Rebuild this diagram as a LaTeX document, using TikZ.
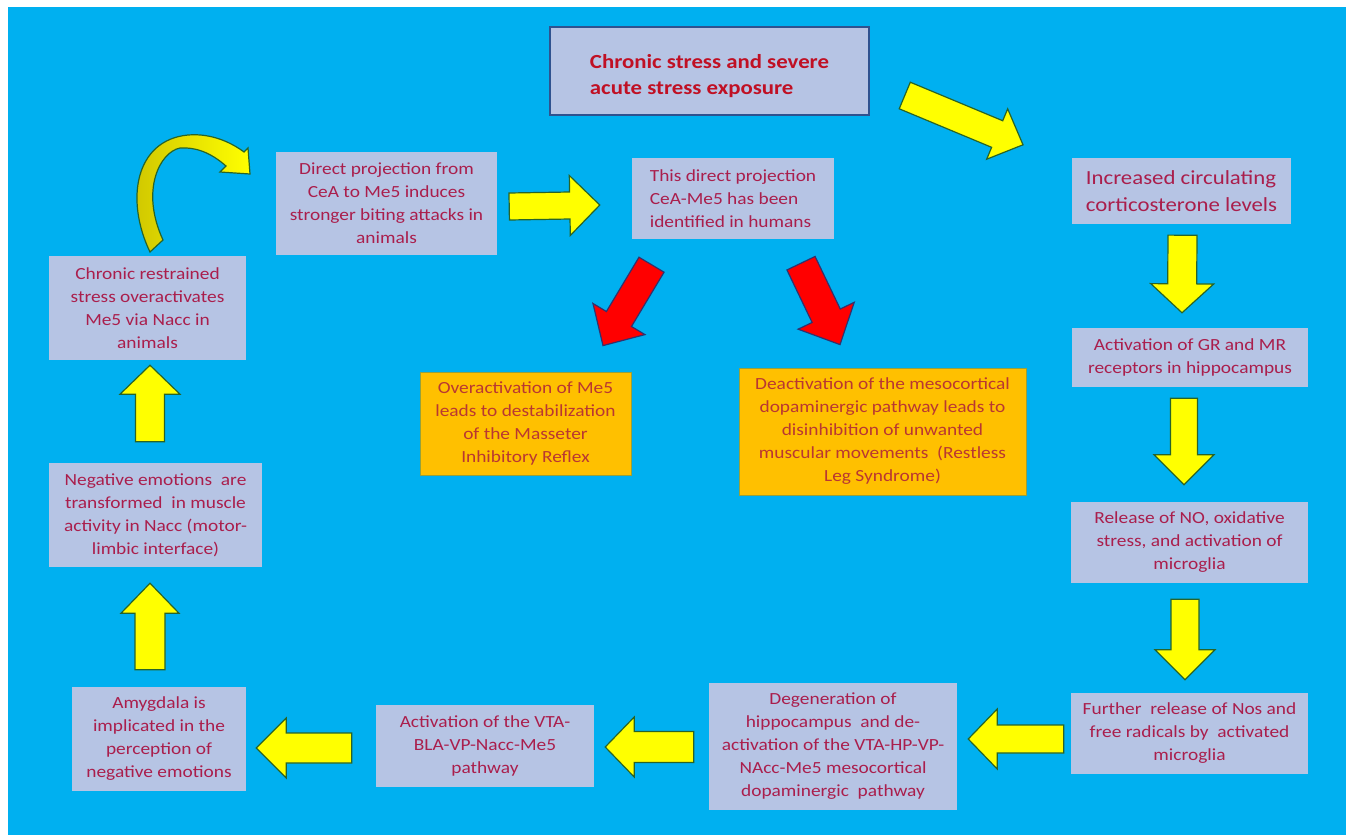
\documentclass[tikz,border=0pt]{standalone}
\usepackage{fontspec}
\setmainfont{Carlito}[FakeStretch=1.14]
\usetikzlibrary{calc}
\definecolor{bgblue}{RGB}{0,176,240}
\definecolor{boxfill}{RGB}{182,196,228}
\definecolor{boxtext}{RGB}{170,30,76}
\definecolor{toptext}{RGB}{192,16,36}
\definecolor{topborder}{RGB}{47,82,143}
\definecolor{orfill}{RGB}{255,192,0}
\definecolor{orborder}{RGB}{150,160,60}
\definecolor{ortext}{RGB}{185,55,50}
\definecolor{ayellow}{RGB}{255,255,0}
\definecolor{ayedge}{RGB}{40,100,40}
\definecolor{ared}{RGB}{255,0,0}
\definecolor{arededge}{RGB}{50,50,110}
\definecolor{darkyellow}{RGB}{205,195,0}
\newcommand\blockarr[6]{%
  \coordinate (baH) at ($(#3)!#6!(#2)$);
  \path[#1] ($(#2)!#4!90:(#3)$) -- ($(baH)!#4!90:(#3)$) -- ($(baH)!#5!90:(#3)$) -- (#3)
    -- ($(baH)!#5!-90:(#3)$) -- ($(baH)!#4!-90:(#3)$) -- ($(#2)!#4!-90:(#3)$) -- cycle;
}
\tikzset{
  box/.style={fill=boxfill, inner sep=0pt, align=center, text=boxtext,
    font=\fontsize{17}{23}\selectfont},
  topbox/.style={fill=boxfill, draw=topborder, line width=1.5pt, inner sep=0pt,
    text=toptext, font=\fontsize{20}{26}\selectfont\bfseries},
  orbox/.style={fill=orfill, draw=orborder, line width=0.8pt, inner sep=0pt, align=center,
    text=ortext, font=\fontsize{17}{23}\selectfont},
  yarrow/.style={fill=ayellow, draw=ayedge, line width=1.2pt, line join=miter},
  rarrow/.style={fill=ared, draw=arededge, line width=1.2pt, line join=miter},
}
\begin{document}
\begin{tikzpicture}[x=1pt,y=-1pt]
\useasboundingbox (0,0) rectangle (1356,835);
\fill[white] (0,0) rectangle (1356,835);
\fill[bgblue] (8,7) rectangle (1346,835);

% nodes
\node[topbox, minimum width=319, minimum height=88] (top) at (709.5,71)
  {\raisebox{-5pt}[\height][\depth]{\begin{tabular}{@{}l@{}}Chronic stress and severe\\acute stress exposure\end{tabular}}};
\node[box, align=left, font=\fontsize{20}{27}\selectfont, minimum width=219, minimum height=66] (inc) at (1181.5,191)
  {Increased circulating\\corticosterone levels};
\node[box, minimum width=236, minimum height=59] (gr) at (1190,357.5)
  {Activation of GR and MR\\receptors in hippocampus};
\node[box, minimum width=237, minimum height=81] (rel) at (1189.5,542.5)
  {Release of NO, oxidative\\stress, and activation of\\microglia};
\node[box, minimum width=237, minimum height=81] (fur) at (1189.5,733.5)
  {Further\ \ release of Nos and\\free radicals by\ \ activated\\microglia};
\node[box, minimum width=248, minimum height=127] (deg) at (833,746.5)
  {Degeneration of\\hippocampus\ \ and de-\\activation of the VTA-HP-VP-\\NAcc-Me5 mesocortical\\dopaminergic\ \ pathway};
\node[box, minimum width=218, minimum height=82] (vta) at (485,746)
  {Activation of the VTA-\\BLA-VP-Nacc-Me5\\pathway};
\node[box, minimum width=174, minimum height=104] (amy) at (159,739)
  {Amygdala is\\implicated in the\\perception of\\negative emotions};
\node[box, minimum width=213, minimum height=104] (neg) at (155.5,515)
  {Negative emotions\ \ are\\transformed\ \ in muscle\\activity in Nacc (motor-\\limbic interface)};
\node[box, minimum width=197, minimum height=104] (chr) at (147.5,308)
  {Chronic restrained\\stress overactivates\\Me5 via Nacc in\\animals};
\node[box, minimum width=221, minimum height=103] (dir) at (386.5,203.5)
  {Direct projection from\\CeA to Me5 induces\\stronger biting attacks in\\animals};
\node[box, align=left, minimum width=202, minimum height=81] (thi) at (733,198.5)
  {This direct projection\\CeA-Me5 has been\\identified in humans};
\node[orbox, minimum width=211, minimum height=103] (ov) at (525.5,423.5)
  {Overactivation of Me5\\leads to destabilization\\of the Masseter\\Inhibitory Reflex};
\node[orbox, minimum width=287, minimum height=127] (de) at (882.5,431.5)
  {Deactivation of the mesocortical\\dopaminergic pathway leads to\\disinhibition of unwanted\\muscular movements\ \ (Restless\\Leg Syndrome)};

% arrow end points
\coordinate (a1s) at ($(top.east)+(35,24.5)$);
\coordinate (a1e) at ($(inc.north)+(-158.5,-13)$);
\coordinate (a2s) at ($(inc.south)+(1,11)$);
\coordinate (a2e) at ($(gr.north)+(-8,-15)$);
\coordinate (a3s) at ($(gr.south)+(-6,11)$);
\coordinate (a3e) at ($(rel.north)+(-5.5,-17)$);
\coordinate (a4s) at ($(rel.south)+(-4.5,16)$);
\coordinate (a4e) at ($(fur.north)+(-4.5,-13)$);
\coordinate (a5s) at ($(fur.west)+(-7,5.5)$);
\coordinate (a5e) at ($(deg.east)+(11,-7.5)$);
\coordinate (a6s) at ($(deg.west)+(-15,0.5)$);
\coordinate (a6e) at ($(vta.east)+(11,1)$);
\coordinate (a7s) at ($(vta.west)+(-24,2)$);
\coordinate (a7e) at ($(amy.east)+(10,9)$);
\coordinate (a8s) at ($(amy.north)+(-9,-17)$);
\coordinate (a8e) at ($(neg.south)+(-5.5,16)$);
\coordinate (a9s) at ($(neg.north)+(-5.5,-21)$);
\coordinate (a9e) at ($(chr.south)+(2.5,5)$);
\coordinate (a10s) at ($(dir.east)+(12,3)$);
\coordinate (a10e) at ($(thi.west)+(-32,6.5)$);
\coordinate (r1s) at ($(thi.south)+(-81.5,25.5)$);
\coordinate (r1e) at ($(ov.north)+(77.5,-26)$);
\coordinate (r2s) at ($(thi.south)+(68,24)$);
\coordinate (r2e) at ($(de.north)+(-42.5,-23)$);

% yellow block arrows
\blockarr{yarrow}{a1s}{a1e}{14.4pt}{27.3pt}{28pt}
\blockarr{yarrow}{a2s}{a2e}{14.5pt}{31.5pt}{29pt}
\blockarr{yarrow}{a3s}{a3e}{13.5pt}{30pt}{30pt}
\blockarr{yarrow}{a4s}{a4e}{14pt}{30pt}{30pt}
\blockarr{yarrow}{a5s}{a5e}{14pt}{30pt}{29pt}
\blockarr{yarrow}{a6s}{a6e}{15.5pt}{30pt}{29pt}
\blockarr{yarrow}{a7s}{a7e}{15pt}{30pt}{30pt}
\blockarr{yarrow}{a8s}{a8e}{15pt}{29pt}{30pt}
\blockarr{yarrow}{a9s}{a9e}{14.5pt}{30pt}{29pt}
\blockarr{yarrow}{a10s}{a10e}{13.5pt}{30pt}{30pt}
% red block arrows
\blockarr{rarrow}{r1s}{r1e}{14.6pt}{30.3pt}{31pt}
\blockarr{rarrow}{r2s}{r2e}{15.6pt}{31.1pt}{32pt}

% curved arrow from chr to dir
\path[draw=ayedge, line width=1.2pt, line join=miter, left color=darkyellow, right color=ayellow]
  (150,252) .. controls (125,200) and (135,140) .. (188,135)
  .. controls (212,133) and (232,143) .. (244,152)
  -- (248,148) -- (250,174) -- (220,172) -- (226,166)
  .. controls (210,152) and (195,147) .. (180,148)
  .. controls (160,152) and (140,190) .. (163,240) -- cycle;
\end{tikzpicture}
\end{document}
